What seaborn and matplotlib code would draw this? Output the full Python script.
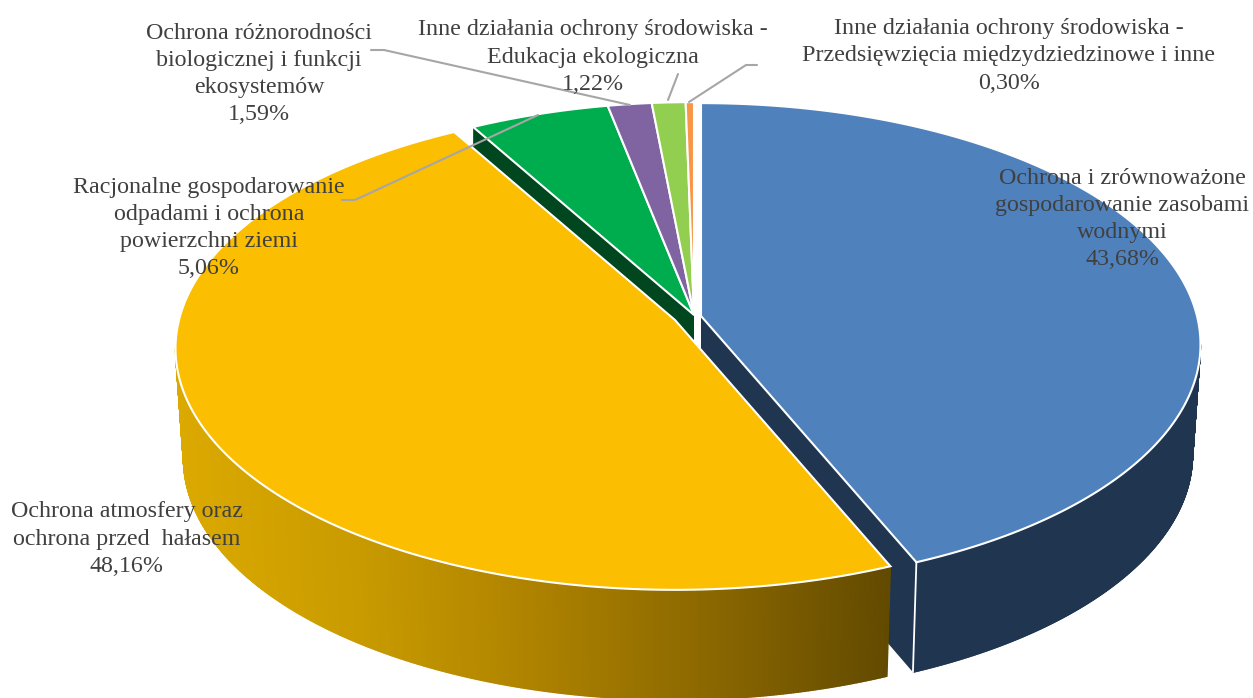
import numpy as np
import matplotlib
matplotlib.use("Agg")
import matplotlib.pyplot as plt
from matplotlib.collections import PolyCollection
import seaborn as sns

labels = [
    "Ochrona i zrównoważone\ngospodarowanie zasobami\nwodnymi",
    "Ochrona atmosfery oraz\nochrona przed  hałasem",
    "Racjonalne gospodarowanie\nodpadami i ochrona\npowierzchni ziemi",
    "Ochrona różnorodności\nbiologicznej i funkcji\nekosystemów",
    "Inne działania ochrony środowiska -\nEdukacja ekologiczna",
    "Inne działania ochrony środowiska -\nPrzedsięwzięcia międzydziedzinowe i inne",
]
shares = [43.68, 48.16, 5.06, 1.59, 1.22, 0.30]
top_colors = ["#4F81BD", "#FBBE00", "#00AD4E", "#8064A2", "#92CF50", "#F79646"]

sns.set_theme(style="white")
plt.rcParams["font.family"] = ["Liberation Serif", "DejaVu Serif"]

# pie geometry in pixels, with a bit of perspective
RX, RY, K = 496, 238, 0.118
DEPTH, SHRINK = 110, 0.984
apexes = [(701, 316), (675, 320), (694, 315), (694, 315), (694, 315), (694, 315)]
label_pos = [(1122, 219), (127, 539), (209, 228), (259, 74), (593, 57), (1009, 56)]
leaders = [
    [(342, 200), (355, 200), (538, 115)],
    [(371, 50), (384, 50), (630, 105)],
    [(668, 100), (678, 74)],
    [(689, 102), (746, 65), (757, 65)],
]

edges = np.concatenate([[0], np.cumsum(shares)]) / np.sum(shares) * 2 * np.pi
front_from = np.arccos(-K)  # the side only shows below the widest point
front_to = 2 * np.pi - front_from


def rim(angle, apex):
    w = 1 + K * np.cos(angle)
    return apex[0] + RX * np.sin(angle) / w, apex[1] - RY * np.cos(angle) / w


def lower(x, y, apex):
    return apex[0] + (x - apex[0]) * SHRINK, y + DEPTH


def wall(a0, a1, apex, n=400):
    # side band as thin quads, their union gives the straight silhouette
    t = np.linspace(a0, a1, n)
    x, y = rim(t, apex)
    xb, yb = lower(x, y, apex)
    quads = [[(x[i], y[i]), (x[i + 1], y[i + 1]), (xb[i + 1], yb[i + 1]), (xb[i], yb[i])]
             for i in range(n - 1)]
    return quads, (x[:-1] + x[1:]) / 2


fig = plt.figure(figsize=(12.53, 6.98), dpi=100)
ax = fig.add_axes([0, 0, 1, 1])

# blue side and cut face
quads, _ = wall(front_from, edges[1], apexes[0])
ax.add_collection(PolyCollection(quads, facecolors="#1F3550", edgecolors="#1F3550", linewidths=1.0))
tx, ty = rim(edges[1], apexes[0])
bx, by = lower(tx, ty, apexes[0])
ax.fill([apexes[0][0], tx, bx, apexes[0][0]], [apexes[0][1], ty, by, apexes[0][1] + DEPTH],
        color="#1F3550", lw=0)
ax.plot([tx, bx], [ty, by], color="white", lw=1.3)

# green cut face, mostly hidden by the yellow slice
tx, ty = rim(edges[2], apexes[2])
ax.fill([apexes[2][0], tx, tx, apexes[2][0]], [apexes[2][1], ty, ty + DEPTH, apexes[2][1] + DEPTH],
        color="#00461F", lw=0)

# yellow side with the horizontal gradient
cmap = sns.blend_palette(["#DBA900", "#C99B00", "#AE8200", "#8A6700", "#624A00"], as_cmap=True)
quads, mids = wall(edges[1], front_to, apexes[1])
cols = cmap(np.clip((mids - 175) / (891 - 175), 0, 1))
ax.add_collection(PolyCollection(quads, facecolors=cols, edgecolors=cols, linewidths=1.0))

# top faces
for i in [2, 3, 4, 5, 0, 1]:
    t = np.linspace(edges[i], edges[i + 1], 200)
    x, y = rim(t, apexes[i])
    ax.fill(np.r_[apexes[i][0], x], np.r_[apexes[i][1], y], facecolor=top_colors[i],
            edgecolor="white", lw=1.5, joinstyle="miter", zorder=3)

for pts in leaders:
    xs, ys = zip(*pts)
    ax.plot(xs, ys, color="#A6A6A6", lw=1.5, zorder=4)

for name, share, (lx, ly) in zip(labels, shares, label_pos):
    txt = name + "\n" + f"{share:.2f}".replace(".", ",") + "%"
    ax.text(lx, ly, txt, ha="center", va="center", fontsize=17.3, color="#404040",
            linespacing=1.38, zorder=5)

ax.set_xlim(0, 1253)
ax.set_ylim(698, 0)
ax.axis("off")

fig.savefig("out.png", dpi=100)
